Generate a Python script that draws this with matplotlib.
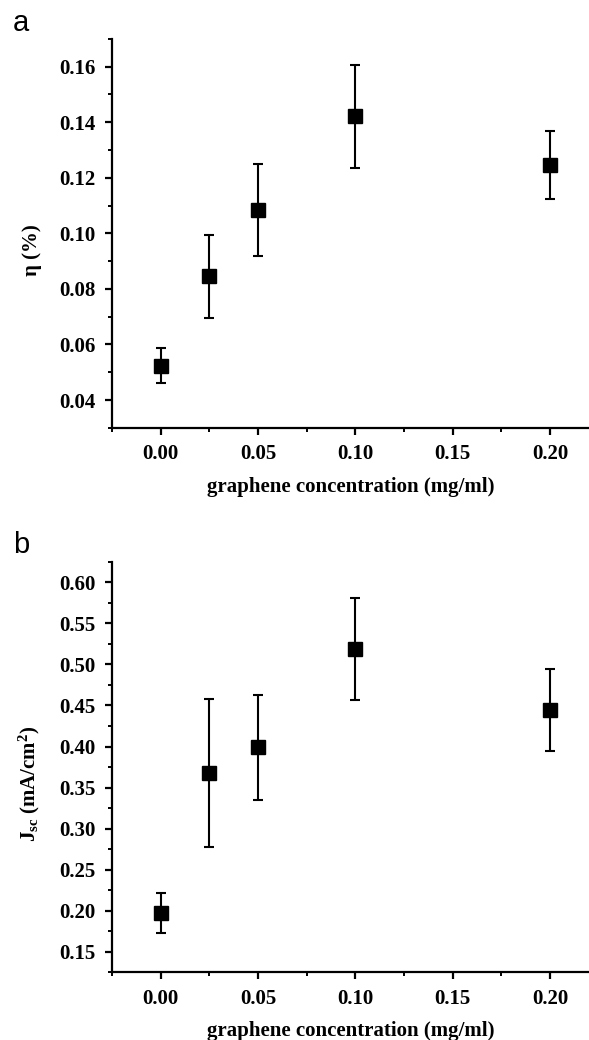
import matplotlib
matplotlib.use("Agg")
import matplotlib.pyplot as plt
from matplotlib.ticker import MultipleLocator, FormatStrFormatter
from matplotlib.font_manager import FontProperties

# Data
conc = [0.0, 0.025, 0.05, 0.10, 0.20]
eta = [0.0523, 0.0845, 0.1084, 0.1421, 0.1246]
eta_err = [0.0063, 0.0150, 0.0166, 0.0184, 0.0121]
jsc = [0.197, 0.368, 0.399, 0.519, 0.445]
jsc_err = [0.0245, 0.090, 0.064, 0.062, 0.050]

xticks = [0.00, 0.05, 0.10, 0.15, 0.20]

plt.rcParams['mathtext.fontset'] = 'custom'
plt.rcParams['mathtext.rm'] = 'Liberation Serif:bold'
plt.rcParams['mathtext.bf'] = 'Liberation Serif:bold'
plt.rcParams['mathtext.it'] = 'Liberation Serif:bold'

W, H = 589, 1040
fig = plt.figure(figsize=(W / 100, H / 100), dpi=100)

tick_fp = FontProperties(family='Liberation Serif', weight='bold', size=15)
label_fp = FontProperties(family='Liberation Serif', weight='bold', size=15)


def make_ax(top_px, bottom_px):
    left = 112 / W
    right = 589 / W
    return fig.add_axes([left, 1 - bottom_px / H, right - left, (bottom_px - top_px) / H])


def style(ax, ylim, ymaj):
    ax.set_xlim(-0.025, 0.22)
    ax.set_ylim(*ylim)
    ax.set_xticks(xticks)
    ax.xaxis.set_minor_locator(MultipleLocator(0.025))
    ax.yaxis.set_major_locator(MultipleLocator(ymaj))
    ax.yaxis.set_minor_locator(MultipleLocator(ymaj / 2))
    ax.xaxis.set_major_formatter(FormatStrFormatter('%.2f'))
    ax.yaxis.set_major_formatter(FormatStrFormatter('%.2f'))
    for s in ['top', 'right']:
        ax.spines[s].set_visible(False)
    for s in ['left', 'bottom']:
        ax.spines[s].set_linewidth(1.6)
    ax.tick_params(which='major', direction='out', length=5, width=1.6, pad=7)
    ax.tick_params(which='minor', direction='out', length=3, width=1.4)
    for lab in ax.get_xticklabels() + ax.get_yticklabels():
        lab.set_fontproperties(tick_fp)


ax1 = make_ax(38.9, 427.8)
ax1.errorbar(conc, eta, yerr=eta_err, fmt='s', color='black', ms=9.5,
             elinewidth=1.5, capsize=3.5, capthick=1.5)
style(ax1, (0.03, 0.17), 0.02)
ax1.set_xlabel('graphene concentration (mg/ml)', fontproperties=label_fp, labelpad=9)
ax1.set_ylabel('η (%)', fontproperties=label_fp)
ax1.yaxis.set_label_coords(-0.147, 0.457)

ax2 = make_ax(561.8, 972.3)
ax2.errorbar(conc, jsc, yerr=jsc_err, fmt='s', color='black', ms=9.5,
             elinewidth=1.5, capsize=3.5, capthick=1.5)
style(ax2, (0.125, 0.625), 0.05)
ax2.set_xlabel('graphene concentration (mg/ml)', fontproperties=label_fp, labelpad=9)
ax2.set_ylabel(r'J$_{\mathrm{sc}}$ (mA/cm$^{\mathrm{2}}$)', fontproperties=label_fp)
ax2.yaxis.set_label_coords(-0.147, 0.46)

fig.text(13 / W, 1 - 31 / H, 'a', family='Liberation Sans', fontsize=21)
fig.text(13 / W, 1 - 553 / H, 'b', family='Liberation Sans', fontsize=21)

fig.savefig('out.png', dpi=100)
